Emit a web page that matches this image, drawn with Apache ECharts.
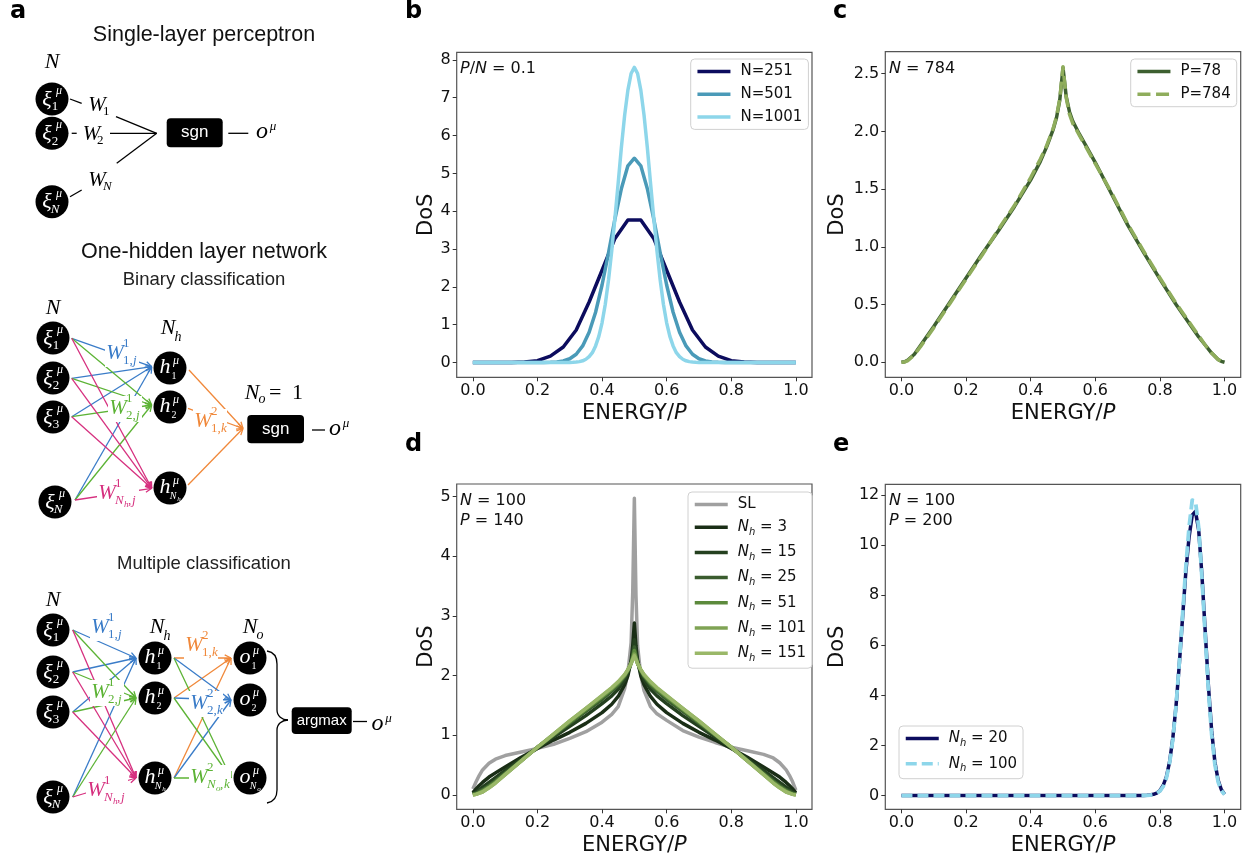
<!DOCTYPE html>
<html><head><meta charset="utf-8">
<script src="https://cdn.jsdelivr.net/npm/echarts@6.0.0/dist/echarts.min.js"></script>
<style>html,body{margin:0;padding:0;background:#fff}#c{width:1250px;height:861px}</style>
</head><body><div id="c"></div>
<script>
// ---------------- DATA ----------------
const xTicks = [0, 0.2, 0.4, 0.6, 0.8, 1.0];
const bYTicks = [0, 1, 2, 3, 4, 5, 6, 7, 8];
const cYTicks = [0, 0.5, 1.0, 1.5, 2.0, 2.5];
const dYTicks = [0, 1, 2, 3, 4, 5];
const eYTicks = [0, 2, 4, 6, 8, 10, 12];

// panel b (x grid = k/(n-1))
const bN251 = [0,0,0,0.002,0.012,0.05,0.17,0.41,0.86,1.6,2.44,3.28,3.77,3.77,3.28,2.44,1.6,0.86,0.41,0.17,0.05,0.012,0.002,0,0,0];
const bN501 = [0,0,0,0,0,0,0,0,0,0,0,
  0.002,0.006,0.016,0.042,0.1,0.22,0.44,0.8,1.33,2.05,2.9,3.8,4.6,5.2,
  5.4,
  5.2,4.6,3.8,2.9,2.05,1.33,0.8,0.44,0.22,0.1,0.042,0.016,0.006,0.002,
  0,0,0,0,0,0,0,0,0,0,0];
const bN1001 = [0,0,0,0,0,0,0,0,0,0,0,0,0,0,0,0,0,0,0,0,0,0,0,0,0,0,0,0,0,
  0.001,0.003,0.006,0.012,0.024,0.046,0.087,0.155,0.26,0.44,0.69,1.05,1.54,2.18,2.95,3.83,4.75,5.7,6.54,7.2,7.64,
  7.8,
  7.64,7.2,6.54,5.7,4.75,3.83,2.95,2.18,1.54,1.05,0.69,0.44,0.26,0.155,0.087,0.046,0.024,0.012,0.006,0.003,0.001,
  0,0,0,0,0,0,0,0,0,0,0,0,0,0,0,0,0,0,0,0,0,0,0,0,0,0,0,0,0];

// panel c
const cX = [0,0.01,0.02,0.04,0.06,0.08,0.1,0.15,0.2,0.25,0.3,0.35,0.4,0.43,0.45,0.47,0.48,0.49,0.5,0.51,0.52,0.53,0.55,0.57,0.6,0.65,0.7,0.75,0.8,0.85,0.9,0.92,0.94,0.96,0.98,0.99,1.0];
const cP78 = [0,0.005,0.02,0.07,0.15,0.23,0.31,0.52,0.73,0.94,1.14,1.35,1.58,1.74,1.87,2.02,2.12,2.27,2.55,2.3,2.17,2.09,1.98,1.88,1.73,1.46,1.19,0.95,0.72,0.5,0.3,0.22,0.15,0.08,0.025,0.008,0];
const cP784 = [0,0.003,0.015,0.065,0.14,0.22,0.3,0.51,0.72,0.93,1.15,1.36,1.6,1.76,1.88,2.03,2.13,2.28,2.56,2.29,2.15,2.07,1.97,1.87,1.72,1.47,1.2,0.96,0.73,0.51,0.31,0.23,0.15,0.08,0.025,0.007,0];

// panel d
const dX = [0,0.01,0.02,0.03,0.05,0.07,0.1,0.15,0.2,0.25,0.3,0.35,0.4,0.43,0.45,0.47,0.48,0.49,0.495,0.5,0.505,0.51,0.52,0.53,0.55,0.57,0.6,0.65,0.7,0.75,0.8,0.85,0.9,0.93,0.95,0.97,0.98,0.99,1.0];
const dSL = [0.1,0.22,0.33,0.42,0.53,0.6,0.66,0.72,0.78,0.85,0.95,1.06,1.22,1.35,1.48,1.78,2.05,2.55,3.4,4.97,3.35,2.5,2.0,1.75,1.48,1.36,1.25,1.08,0.97,0.88,0.8,0.74,0.68,0.62,0.54,0.42,0.33,0.22,0.08];
const dNh3 = [0.04,0.1,0.16,0.21,0.3,0.37,0.47,0.63,0.78,0.92,1.05,1.2,1.38,1.52,1.65,1.85,2.0,2.25,2.5,2.88,2.5,2.25,2.0,1.85,1.65,1.52,1.38,1.2,1.05,0.92,0.78,0.63,0.47,0.37,0.3,0.21,0.16,0.1,0.04];
const dNh15 = [0.02,0.05,0.09,0.13,0.21,0.29,0.41,0.6,0.79,0.97,1.15,1.33,1.53,1.66,1.77,1.93,2.05,2.22,2.38,2.6,2.38,2.22,2.05,1.93,1.77,1.66,1.53,1.33,1.15,0.97,0.79,0.6,0.41,0.29,0.21,0.13,0.09,0.05,0.02];
const dNh25 = [0.01,0.03,0.06,0.09,0.16,0.24,0.37,0.58,0.8,1.0,1.2,1.4,1.6,1.74,1.84,1.98,2.08,2.22,2.33,2.48,2.33,2.22,2.08,1.98,1.84,1.74,1.6,1.4,1.2,1.0,0.8,0.58,0.37,0.24,0.16,0.09,0.06,0.03,0.01];
const dNh51 = [0.01,0.02,0.04,0.07,0.14,0.22,0.35,0.57,0.8,1.01,1.22,1.43,1.64,1.77,1.87,2.0,2.09,2.2,2.3,2.42,2.3,2.2,2.09,2.0,1.87,1.77,1.64,1.43,1.22,1.01,0.8,0.57,0.35,0.22,0.14,0.07,0.04,0.02,0.01];
const dNh101 = [0,0.01,0.03,0.05,0.12,0.2,0.34,0.57,0.8,1.02,1.24,1.45,1.66,1.79,1.89,2.01,2.1,2.2,2.28,2.36,2.28,2.2,2.1,2.01,1.89,1.79,1.66,1.45,1.24,1.02,0.8,0.57,0.34,0.2,0.12,0.05,0.03,0.01,0];
const dNh151 = [0,0.01,0.03,0.05,0.12,0.2,0.34,0.57,0.8,1.02,1.24,1.45,1.67,1.8,1.9,2.02,2.1,2.2,2.27,2.33,2.27,2.2,2.1,2.02,1.9,1.8,1.67,1.45,1.24,1.02,0.8,0.57,0.34,0.2,0.12,0.05,0.03,0.01,0];

// panel e
const eX = [0,0.1,0.2,0.3,0.4,0.5,0.6,0.7,0.74,0.75,0.76,0.77,0.78,0.79,0.8,0.81,0.82,0.83,0.84,0.85,0.86,0.87,0.88,0.89,0.9,0.91,0.92,0.93,0.94,0.95,0.96,0.97,0.98,0.99,1.0];
const eNh20 = [0,0,0,0,0,0,0,0,0.002,0.005,0.01,0.025,0.05,0.1,0.2,0.4,0.75,1.35,2.3,3.6,5.25,7.1,8.9,10.3,11.2,11.35,10.6,8.8,6.6,4.4,2.6,1.35,0.62,0.24,0.05];
const eNh100 = [0,0,0,0,0,0,0,0,0.001,0.004,0.008,0.02,0.045,0.09,0.18,0.36,0.7,1.3,2.25,3.6,5.3,7.2,9.1,10.7,11.8,11.75,10.7,8.7,6.4,4.2,2.45,1.25,0.55,0.2,0.04];

// ---------------- DIAGRAM (panel a) ----------------
const G = [];
const SERIF = 'Liberation Serif', SANS = 'Liberation Sans', DJ = 'DejaVu Sans';
const BLUE = '#3a7cc8', GREEN = '#5cb335', MAG = '#d6307f', ORG = '#f0883a';
function T(x, y, s, size, o) {
  o = o || {};
  G.push({type:'text', x:x, y:y, z:o.z || 20, silent:true,
    style:{text:s, fontSize:size, fontFamily:o.ff || SERIF, fontStyle:o.st || 'italic', fontWeight:o.fw || 'normal',
      fill:o.c || '#000', align:o.al || 'center', verticalAlign:o.va || 'middle'}});
}
function L(x1, y1, x2, y2, c, w) {
  G.push({type:'line', z:5, silent:true, shape:{x1:x1, y1:y1, x2:x2, y2:y2}, style:{stroke:c || '#000', lineWidth:w || 1.3}});
}
function A(x1, y1, x2, y2, c) {
  L(x1, y1, x2, y2, c);
  const a = Math.atan2(y2 - y1, x2 - x1), h = 7, s = 0.45;
  L(x2, y2, x2 - h * Math.cos(a - s), y2 - h * Math.sin(a - s), c);
  L(x2, y2, x2 - h * Math.cos(a + s), y2 - h * Math.sin(a + s), c);
}
function C(cx, cy) { G.push({type:'circle', z:10, silent:true, shape:{cx:cx, cy:cy, r:16.5}, style:{fill:'#000'}}); }
function box(x, y, w, h, label, fs) {
  G.push({type:'rect', z:10, silent:true, shape:{x:x, y:y, width:w, height:h, r:4}, style:{fill:'#000'}});
  T(x + w / 2, y + h / 2, label, fs, {ff:SANS, st:'normal', c:'#fff'});
}
function xiNode(cx, cy, sub, it) {
  C(cx, cy);
  T(cx - 5, cy + 1, 'ξ', 22, {c:'#fff'});
  T(cx + 7, cy - 8, 'μ', 12, {c:'#fff'});
  T(cx + 3, cy + 8, sub, 13, {c:'#fff', st: it ? 'italic' : 'normal'});
}
function hNode(cx, cy, sub, letter, tiny) {
  C(cx, cy);
  T(cx - 5, cy - 1, letter, 22, {c:'#fff'});
  T(cx + 6, cy - 7, 'μ', 12, {c:'#fff'});
  if (tiny) {
    T(cx + 3, cy + 8, sub, 10, {c:'#fff'});
    T(cx + 9, cy + 11, tiny, 7, {c:'#fff'});
  } else {
    T(cx + 4, cy + 8, sub, 10, {c:'#fff', st:'normal'});
  }
}
function WL(x, y, c, sup, sub, tiny, last) {
  G.push({type:'rect', z:12, silent:true, shape:{x:x - 10, y:y - 12, width: tiny ? 42 : 34, height:26}, style:{fill:'#fff'}});
  T(x, y, 'W', 21, {c:c});
  T(x + 8, y - 9, sup, 13, {c:c, st:'normal', al:'left'});
  if (tiny) {
    T(x + 8, y + 8, sub, 13, {c:c, al:'left'});
    T(x + 17, y + 12, tiny, 9, {c:c, al:'left'});
    T(x + 21, y + 8, ',', 13, {c:c, st:'normal', al:'left'});
    T(x + 25, y + 8, last, 13, {c:c, al:'left'});
  } else {
    T(x + 8, y + 8, sub + ',', 13, {c:c, st:'normal', al:'left'});
    T(x + 18, y + 8, last, 13, {c:c, al:'left'});
  }
}
function omu(x, y) { T(x, y - 2, 'o', 24); T(x + 11, y - 7, 'μ', 13); }

// panel letters
T(10, 11.7, 'a', 24, {ff:DJ, fw:'bold', st:'normal', al:'left'});
T(405, 11.7, 'b', 24, {ff:DJ, fw:'bold', st:'normal', al:'left'});
T(833, 11.7, 'c', 24, {ff:DJ, fw:'bold', st:'normal', al:'left'});
T(405, 444.7, 'd', 24, {ff:DJ, fw:'bold', st:'normal', al:'left'});
T(833, 444.7, 'e', 24, {ff:DJ, fw:'bold', st:'normal', al:'left'});

// titles
T(204, 35, 'Single-layer perceptron', 21.5, {ff:SANS, st:'normal', c:'#111'});
T(204, 251.6, 'One-hidden layer network', 21.5, {ff:SANS, st:'normal', c:'#111'});
T(204, 280.2, 'Binary classification', 18.5, {ff:SANS, st:'normal', c:'#222'});
T(204, 564.2, 'Multiple classification', 18.5, {ff:SANS, st:'normal', c:'#222'});

// --- single-layer perceptron
T(52, 62, 'N', 22);
xiNode(52, 99, '1'); xiNode(52, 133.3, '2'); xiNode(52, 201.7, 'N', true);
L(70, 99, 81.7, 103.3); L(116, 116.7, 156.7, 133.3);
L(71.7, 133.3, 76.7, 133.3); L(110, 133.3, 156.7, 133.3);
L(70, 196.7, 81.7, 190); L(116.7, 163.3, 156.7, 133.3);
T(97, 105, 'W', 21); T(103, 112, '1', 13, {st:'normal', al:'left'});
T(91.5, 134, 'W', 21); T(97, 141, '2', 13, {st:'normal', al:'left'});
T(97, 180, 'W', 21); T(103, 187, 'N', 13, {al:'left'});
box(166.7, 118.3, 56, 29, 'sgn', 17);
L(228.3, 133.3, 248.3, 133.3);
omu(262, 134);

// --- binary classification
T(53, 308, 'N', 22);
T(168, 328, 'N', 22); T(178, 337, 'h', 14);
T(252, 393, 'N', 22); T(262, 399, 'o', 14); T(269, 393, '=', 22, {st:'normal', al:'left'}); T(292, 393, '1', 22, {st:'normal', al:'left'});
const bIn = [[71.7, 338.3], [71.7, 378.3], [71.7, 416.7], [75, 500]];
bIn.forEach(p => A(p[0], p[1], 151.7, 366.7, BLUE));
bIn.forEach(p => A(p[0], p[1], 151.7, 405, GREEN));
bIn.forEach(p => A(p[0], p[1], 151.7, 488.3, MAG));
[[189, 370], [188, 408.3], [188, 485]].forEach(p => A(p[0], p[1], 243, 428.5, ORG));
xiNode(53, 338, '1'); xiNode(53, 378, '2'); xiNode(53, 417, '3'); xiNode(55, 502, 'N', true);
hNode(170, 368, '1', 'h'); hNode(170, 407, '2', 'h'); hNode(170, 488, 'N', 'h', 'h');
WL(115, 353, BLUE, '1', '1', null, 'j');
WL(118, 408, GREEN, '1', '2', null, 'j');
WL(107, 493, MAG, '1', 'N', 'h', 'j');
WL(203, 421, ORG, '2', '1', null, 'k');
box(247.3, 415, 56.7, 28.3, 'sgn', 17);
L(312, 430, 325, 430);
omu(335, 431);

// --- multiple classification
T(53, 600, 'N', 22);
T(157, 627, 'N', 22); T(167, 636, 'h', 14);
T(250, 627, 'N', 22); T(260, 635, 'o', 14);
const mIn = [[72.7, 630], [72.7, 672], [72.7, 712], [72.7, 797]];
mIn.forEach(p => A(p[0], p[1], 136, 658, BLUE));
mIn.forEach(p => A(p[0], p[1], 136, 698, GREEN));
mIn.forEach(p => A(p[0], p[1], 136, 778, MAG));
const mH = [[174, 658], [174, 698], [174, 778]];
mH.forEach(p => A(p[0], p[1], 231, 658, ORG));
mH.forEach(p => A(p[0], p[1], 231, 700, BLUE));
mH.forEach(p => A(p[0], p[1], 231, 778, GREEN));
xiNode(53, 630, '1'); xiNode(53, 672, '2'); xiNode(53, 712, '3'); xiNode(53, 797, 'N', true);
hNode(155, 658, '1', 'h'); hNode(155, 698, '2', 'h'); hNode(155, 778, 'N', 'h', 'h');
hNode(250, 658, '1', 'o'); hNode(250, 700, '2', 'o'); hNode(250, 778, 'N', 'o', 'o');
WL(100, 627, BLUE, '1', '1', null, 'j');
WL(100, 692, GREEN, '1', '2', null, 'j');
WL(96, 790, MAG, '1', 'N', 'h', 'j');
WL(194, 645, ORG, '2', '1', null, 'k');
WL(199, 703, BLUE, '2', '2', null, 'k');
WL(199, 777, GREEN, '2', 'N', 'o', 'k');
function BZ(x1, y1, c1x, c1y, c2x, c2y, x2, y2) {
  G.push({type:'bezierCurve', z:5, silent:true, shape:{x1:x1, y1:y1, cpx1:c1x, cpy1:c1y, cpx2:c2x, cpy2:c2y, x2:x2, y2:y2}, style:{stroke:'#000', fill:null, lineWidth:1.3}});
}
BZ(267, 651, 273, 652, 277, 656, 277, 664); L(277, 664, 277, 710);
BZ(277, 710, 277, 716, 282, 720, 288, 720);
BZ(288, 720, 282, 720, 277, 724, 277, 730); L(277, 730, 277, 790);
BZ(277, 790, 277, 798, 273, 802, 267, 803);
box(291.7, 707.3, 60, 26.7, 'argmax', 15);
L(353, 721.5, 367, 721.5);
omu(377.5, 726);

// annotations in panels
function ann(x, y, s) {
  G.push({type:'text', x:x, y:y, z:30, silent:true, style:{text:s, fontSize:16, fontFamily:DJ, fill:'#111', align:'left', verticalAlign:'middle',
    rich:{i:{fontSize:16, fontFamily:DJ, fontStyle:'italic', fill:'#111'}, t:{fontSize:16, fontFamily:DJ, fill:'#111'}}}});
}
ann(460, 69, '{i|P}{t|/}{i|N}{t| = 0.1}');
ann(889, 69, '{i|N}{t| = 784}');
ann(460, 501, '{i|N}{t| = 100}');
ann(460, 521, '{i|P}{t| = 140}');
ann(889, 501, '{i|N}{t| = 100}');
ann(889, 521, '{i|P}{t| = 200}');

// ---------------- CHARTS ----------------
const gridDefs = [
  {left:456.7, top:52.3, width:355.3, height:325},
  {left:885.3, top:51.7, width:355.4, height:325.6},
  {left:456.7, top:484, width:355.3, height:325.3},
  {left:885.3, top:484.3, width:355.4, height:325}
].map(g => Object.assign(g, {show:true, borderColor:'#555', borderWidth:1.2, backgroundColor:'transparent', containLabel:false}));

function xAx(i) {
  return {type:'value', gridIndex:i, min:-0.05, max:1.05, axisLine:{show:false, onZero:false}, splitLine:{show:false},
    axisTick:{show:true, length:4, customValues:xTicks, lineStyle:{color:'#333', width:1}},
    axisLabel:{customValues:xTicks, formatter:v => v.toFixed(1), fontSize:16, color:'#111', fontFamily:DJ, margin:6},
    name:'ENERGY/{i|P}', nameLocation:'middle', nameGap:26,
    nameTextStyle:{fontSize:21, color:'#111', fontFamily:DJ, rich:{i:{fontSize:21, fontStyle:'italic', fontFamily:DJ, color:'#111'}}}};
}
function yAx(i, min, max, ticks, fmt, gap) {
  return {type:'value', gridIndex:i, min:min, max:max, axisLine:{show:false, onZero:false}, splitLine:{show:false},
    axisTick:{show:true, length:4, customValues:ticks, lineStyle:{color:'#333', width:1}},
    axisLabel:{customValues:ticks, formatter:fmt, fontSize:16, color:'#111', fontFamily:DJ, margin:6},
    name:'DoS', nameLocation:'middle', nameGap:gap, nameRotate:90,
    nameTextStyle:{fontSize:21, color:'#111', fontFamily:DJ}};
}
const idx = a => a.map((_, k) => k / (a.length - 1));
function S(name, gi, xs, ys, color, width, dash) {
  return {type:'line', name:name, xAxisIndex:gi, yAxisIndex:gi, data:xs.map((x, k) => [x, ys[k]]),
    symbol:'none', smooth:false, silent:true, clip:true,
    lineStyle:{color:color, width:width || 3.5, type:dash || 'solid', join:'round'}, itemStyle:{color:color}};
}
const nhRich = {
  i:{fontSize:15, fontStyle:'italic', fontFamily:DJ, lineHeight:20, color:'#111'},
  s:{fontSize:10, fontStyle:'italic', fontFamily:DJ, lineHeight:10, verticalAlign:'bottom', color:'#111'},
  t:{fontSize:15, fontFamily:DJ, lineHeight:20, color:'#111'}
};
function leg(names, left, top, fmt) {
  const l = {show:true, data:names, orient:'vertical', left:left, top:top, itemWidth:33, itemHeight:14, itemGap:7.7,
    padding:[5, 6, 5, 5], backgroundColor:'rgba(255,255,255,0.85)', borderColor:'#d0d0d0', borderWidth:1, borderRadius:4,
    selectedMode:false,
    itemStyle:{color:'transparent', borderColor:'transparent', borderWidth:0, opacity:0},
    lineStyle:{width:3.5, opacity:1},
    textStyle:{fontSize:15, color:'#111', fontFamily:DJ, padding:[0, 0, 0, 5], rich:nhRich}};
  if (fmt) l.formatter = fmt;
  return l;
}
const nhLabel = {Nh3:'3', Nh15:'15', Nh25:'25', Nh51:'51', Nh101:'101', Nh151:'151', Nh20:'20', Nh100:'100'};
const nhFmt = n => n === 'SL' ? '{t|SL}' : '{i|N}{s|h}{t| = ' + nhLabel[n] + '}';

const option = {
  animation:false,
  textStyle:{fontFamily:DJ},
  grid:gridDefs,
  xAxis:[xAx(0), xAx(1), xAx(2), xAx(3)],
  yAxis:[
    yAx(0, -0.39, 8.2, bYTicks, v => String(v), 19),
    yAx(1, -0.13, 2.69, cYTicks, v => v.toFixed(1), 37),
    yAx(2, -0.24, 5.21, dYTicks, v => String(v), 19),
    yAx(3, -0.55, 12.43, eYTicks, v => String(v), 37)
  ],
  legend:[
    leg(['N=251', 'N=501', 'N=1001'], 690.7, 59),
    leg(['P=78', 'P=784'], 1130.7, 59),
    leg(['SL', 'Nh3', 'Nh15', 'Nh25', 'Nh51', 'Nh101', 'Nh151'], 688, 492, nhFmt),
    leg(['Nh20', 'Nh100'], 899, 726, nhFmt)
  ],
  series:[
    S('N=251', 0, idx(bN251), bN251, '#0c0c5e'),
    S('N=501', 0, idx(bN501), bN501, '#4a9ab8'),
    S('N=1001', 0, idx(bN1001), bN1001, '#8dd6ea'),
    S('P=78', 1, cX, cP78, '#3d5f30'),
    S('P=784', 1, cX, cP784, '#8fad5c', 3.5, [13, 5.6]),
    S('SL', 2, dX, dSL, '#a0a0a0'),
    S('Nh3', 2, dX, dNh3, '#1a2e16'),
    S('Nh15', 2, dX, dNh15, '#24401f'),
    S('Nh25', 2, dX, dNh25, '#3a5c2e'),
    S('Nh51', 2, dX, dNh51, '#5c8a3c'),
    S('Nh101', 2, dX, dNh101, '#7fa354'),
    S('Nh151', 2, dX, dNh151, '#9ab868'),
    S('Nh20', 3, eX, eNh20, '#0c0c5e'),
    S('Nh100', 3, eX, eNh100, '#8dd6ea', 3.8, [11, 5])
  ],
  graphic:{elements:G}
};
const chart = echarts.init(document.getElementById('c'), null, {renderer:'canvas'});
chart.setOption(option);
</script></body></html>
